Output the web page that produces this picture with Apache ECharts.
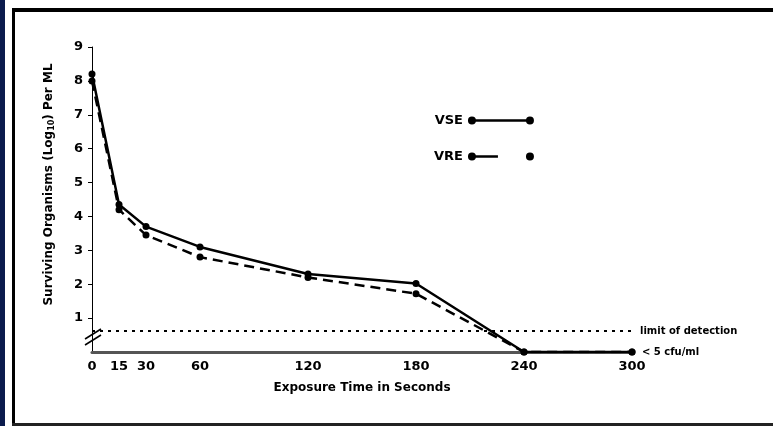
<!DOCTYPE html>
<html>
<head>
<meta charset="utf-8">
<script src="https://cdn.jsdelivr.net/npm/echarts@6/dist/echarts.min.js"></script>
<style>
  html, body { margin: 0; padding: 0; background: #fff; }
  #chart { width: 773px; height: 426px; }
</style>
</head>
<body>
<div id="chart"></div>
<script>
// exposure times (seconds) and log10 counts
const times = [0, 15, 30, 60, 120, 180, 240, 300]
const vse = [8.2, 4.35, 3.7, 3.1, 2.3, 2.02, 0, 0]
const vre = [8.0, 4.2, 3.45, 2.8, 2.2, 1.72, 0, 0]
const xTicks = [0, 15, 30, 60, 120, 180, 240, 300]
const yTicks = [1, 2, 3, 4, 5, 6, 7, 8, 9]
const detectionLimit = 0.62

const font = 'DejaVu Sans'
const chart = echarts.init(document.getElementById('chart'))

const pairs = arr => times.map((t, i) => [t, arr[i]])

// legend samples: dot - line - dot
const dotL = 'M0,4 A4,4 0 1,1 8,4 A4,4 0 1,1 0,4 Z'
const dotR = 'M58,4 A4,4 0 1,1 66,4 A4,4 0 1,1 58,4 Z'
const vseIcon = 'path://' + dotL + ' M7,2.7 L59,2.7 L59,5.3 L7,5.3 Z ' + dotR
const vreIcon = 'path://' + dotL + ' M7,2.7 L30,2.7 L30,5.3 L7,5.3 Z ' + dotR

const option = {
  animation: false,
  textStyle: { fontFamily: font, color: '#000' },
  graphic: [
    { type: 'rect', shape: { x: 0, y: 0, width: 5, height: 426 }, style: { fill: '#0b1b4d' } },
    { type: 'rect', shape: { x: 12, y: 8, width: 3, height: 418 }, style: { fill: '#000' } },
    { type: 'rect', shape: { x: 12, y: 8, width: 761, height: 4 }, style: { fill: '#000' } },
    { type: 'rect', shape: { x: 12, y: 423, width: 761, height: 3 }, style: { fill: '#222' } },
    // axis break marks
    { type: 'line', shape: { x1: 85, y1: 339, x2: 101, y2: 329 }, style: { stroke: '#000', lineWidth: 1.5 } },
    { type: 'line', shape: { x1: 85, y1: 345, x2: 101, y2: 335 }, style: { stroke: '#000', lineWidth: 1.5 } }
  ],
  grid: { left: 92, right: 141, top: 47, bottom: 74 },
  legend: {
    data: [
      { name: 'VSE', icon: vseIcon },
      { name: 'VRE', icon: vreIcon }
    ],
    orient: 'vertical',
    left: 429,
    top: 109,
    align: 'right',
    itemWidth: 66,
    itemHeight: 8,
    itemGap: 23,
    textStyle: { fontFamily: font, fontWeight: 'bold', fontSize: 13, color: '#000' }
  },
  xAxis: {
    type: 'value',
    min: 0,
    max: 300,
    name: 'Exposure Time in Seconds',
    nameLocation: 'middle',
    nameGap: 30,
    nameTextStyle: { fontFamily: font, fontWeight: 'bold', fontSize: 12, color: '#000' },
    axisLine: { lineStyle: { color: '#555', width: 3 } },
    axisTick: { show: false },
    splitLine: { show: false },
    axisLabel: {
      customValues: xTicks,
      margin: 8,
      fontFamily: font, fontWeight: 'bold', fontSize: 13, color: '#000'
    }
  },
  yAxis: {
    type: 'value',
    min: 0,
    max: 9,
    interval: 1,
    name: '{a|Surviving Organisms (Log}{s|10}{a|) Per ML}',
    nameLocation: 'middle',
    nameGap: 36,
    nameTextStyle: {
      padding: [0, 0, 0, 30],
      rich: {
        a: { fontFamily: font, fontWeight: 'bold', fontSize: 12, color: '#000' },
        s: { fontFamily: font, fontWeight: 'bold', fontSize: 8, color: '#000', verticalAlign: 'bottom', padding: [6, 0, 0, 0] }
      }
    },
    axisLine: { show: true, lineStyle: { color: '#000', width: 1 } },
    axisTick: { show: true, customValues: yTicks, length: 4, lineStyle: { color: '#000' } },
    splitLine: { show: false },
    axisLabel: {
      customValues: yTicks,
      margin: 9,
      fontFamily: font, fontWeight: 'bold', fontSize: 13, color: '#000'
    }
  },
  series: [
    {
      name: 'VSE',
      type: 'line',
      data: pairs(vse),
      symbol: 'circle',
      symbolSize: 7,
      itemStyle: { color: '#000' },
      lineStyle: { color: '#000', width: 2.5 },
      z: 3,
      markLine: {
        silent: true,
        symbol: 'none',
        data: [
          {
            yAxis: detectionLimit,
            lineStyle: { color: '#000', type: [3, 5], width: 2 },
            label: { position: 'end', formatter: 'limit of detection', fontFamily: font, fontWeight: 'bold', fontSize: 10, color: '#000', distance: 8 }
          },
          {
            yAxis: 0,
            lineStyle: { color: 'rgba(0,0,0,0)', width: 0 },
            label: { position: 'end', formatter: '< 5 cfu/ml', fontFamily: font, fontWeight: 'bold', fontSize: 10, color: '#000', distance: 10 }
          }
        ]
      }
    },
    {
      name: 'VRE',
      type: 'line',
      data: pairs(vre),
      symbol: 'circle',
      symbolSize: 7,
      itemStyle: { color: '#000' },
      lineStyle: { color: '#000', width: 2.5, type: [10, 6] },
      z: 2
    }
  ]
}

chart.setOption(option)
</script>
</body>
</html>
